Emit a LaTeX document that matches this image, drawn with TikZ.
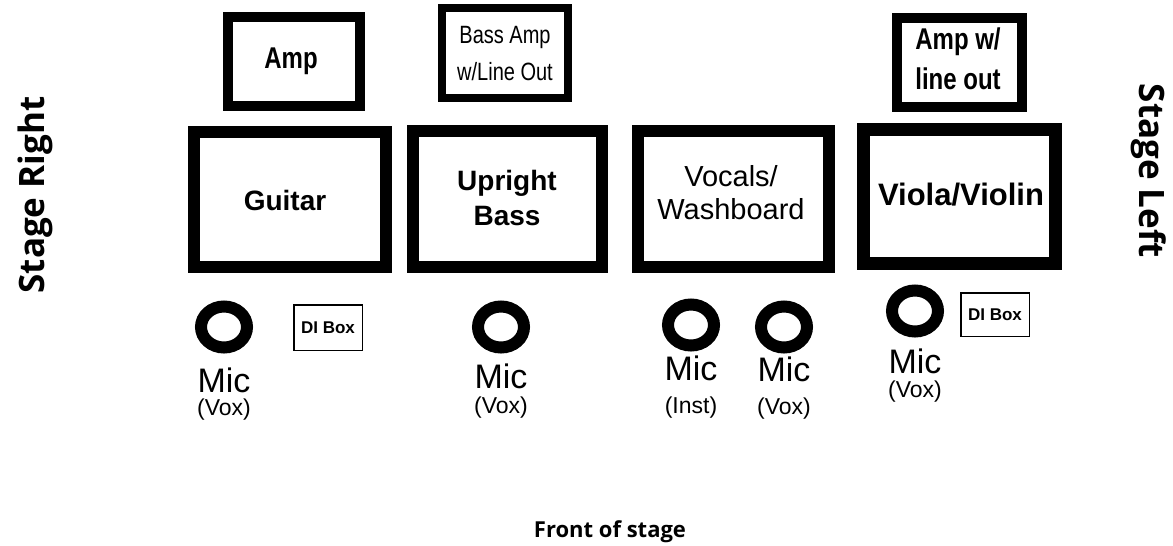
\documentclass[tikz,border=0pt]{standalone}
\usepackage{fontspec}
\usetikzlibrary{shapes.geometric}
\setmainfont{Liberation Sans}
\newfontfamily\osans{Open Sans}
\newfontfamily\condfont[FakeStretch=0.8]{Liberation Sans}
\begin{document}
\begin{tikzpicture}[x=1pt,y=-1pt,
  ampbox/.style={draw, line width=10pt, inner sep=0pt},
  instbox/.style={draw, line width=12pt, inner sep=0pt},
  boxtxt/.style={inner sep=0pt, align=center},
  micring/.style={draw, ellipse, line width=12pt, minimum width=46pt, minimum height=41pt, inner sep=0pt},
  mictxt/.style={inner sep=0pt, font=\fontsize{34}{36}\selectfont},
  subtxt/.style={inner sep=0pt, font=\fontsize{23}{26}\selectfont},
  dibox/.style={draw, line width=1.5pt, inner sep=0pt, font=\fontsize{17}{19}\selectfont\bfseries},
  stagetxt/.style={inner sep=0pt, font=\osans\bfseries\fontsize{35}{40}\selectfont}
]
\useasboundingbox (0,0) rectangle (1173,546);

% amps
\node[ampbox, minimum width=132pt, minimum height=89pt] (amp) at (294,61.5) {};
\node[boxtxt, font=\condfont\bfseries\fontsize{30}{40}\selectfont] (amptxt) at (291,61) {Amp};
\node[ampbox, line width=8pt, minimum width=126pt, minimum height=90pt] (bassamp) at (505,53) {};
\node[boxtxt, font=\condfont\fontsize{25}{37}\selectfont] (bassamptxt) at (505,54) {Bass Amp\\w/Line Out};
\node[ampbox, minimum width=125pt, minimum height=89pt] (violaamp) at (959.5,62.5) {};
\node[boxtxt, font=\condfont\bfseries\fontsize{30}{40}\selectfont] (violaamptxt) at (958,59) {Amp w/\\line out};

% instruments
\node[instbox, minimum width=192pt, minimum height=135pt] (guitar) at (290,199.5) {};
\node[boxtxt, font=\bfseries\fontsize{28}{34}\selectfont] (guitartxt) at (285,200) {Guitar};
\node[instbox, minimum width=189pt, minimum height=136pt] (bass) at (507.5,199) {};
\node[boxtxt, font=\bfseries\fontsize{28}{35}\selectfont] (basstxt) at (507,198) {Upright\\Bass};
\node[instbox, minimum width=191pt, minimum height=136pt] (vocals) at (733.5,199) {};
\node[boxtxt, font=\fontsize{29}{33}\selectfont] (vocalstxt) at (731,193) {Vocals/\\Washboard};
\node[instbox, line width=13pt, minimum width=192pt, minimum height=134pt] (viola) at (959.5,196.5) {};
\node[boxtxt, font=\bfseries\fontsize{31}{36}\selectfont] (violatxt) at (961,195) {Viola/Violin};

% mics
\node[micring] (m1) at (224,327) {};
\node[mictxt] (m1a) at (224,380) {Mic};
\node[subtxt] (m1b) at (224,410) {(Vox)};

\node[dibox, minimum width=68.5pt, minimum height=45.5pt] (di1) at (328,327.5) {DI Box};

\node[micring] (m2) at (501,327) {};
\node[mictxt] (m2a) at (501,376) {Mic};
\node[subtxt] (m2b) at (501,408) {(Vox)};

\node[micring] (m3) at (691,325) {};
\node[mictxt] (m3a) at (691,368) {Mic};
\node[subtxt] (m3b) at (691,408) {(Inst)};

\node[micring] (m4) at (784,327) {};
\node[mictxt] (m4a) at (784,369) {Mic};
\node[subtxt] (m4b) at (784,409) {(Vox)};

\node[micring] (m5) at (915,311) {};
\node[mictxt] (m5a) at (915,361) {Mic};
\node[subtxt] (m5b) at (915,392) {(Vox)};

\node[dibox, minimum width=68.5pt, minimum height=43.5pt] (di2) at (995,314.5) {DI Box};

% stage labels
\node[stagetxt, rotate=90] (sr) at (35,195) {Stage Right};
\node[stagetxt, rotate=-90] (sl) at (1149,171) {Stage Left};
\node[inner sep=0pt, font=\osans\bfseries\fontsize{22}{26}\selectfont] (front) at (610,532) {Front of stage};
\end{tikzpicture}
\end{document}
